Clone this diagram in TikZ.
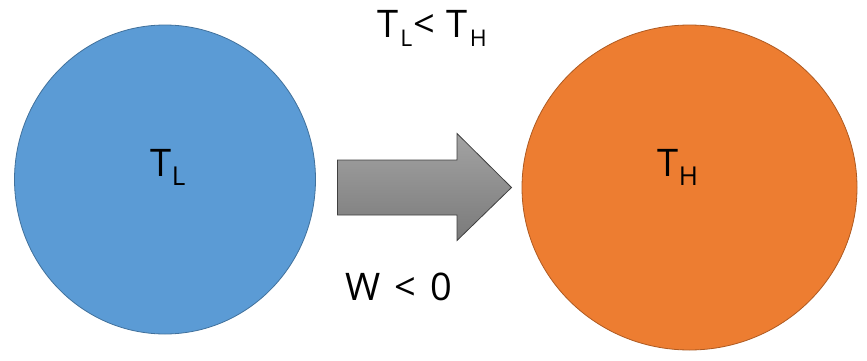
\documentclass[tikz,border=0pt]{standalone}
\usepackage{fontspec}
\setmainfont{Open Sans}
\definecolor{coldfill}{HTML}{5B9BD5}
\definecolor{colddraw}{HTML}{41719C}
\definecolor{hotfill}{HTML}{ED7D31}
\definecolor{hotdraw}{HTML}{AE5A21}
\definecolor{arrtop}{HTML}{A3A3A3}
\definecolor{arrbot}{HTML}{7A7A7A}
\definecolor{arrdraw}{HTML}{404040}
\newcommand{\bigtxt}{\fontsize{38}{38}\selectfont}
\newcommand{\subA}[1]{\raisebox{-9pt}{\fontsize{26}{26}\selectfont #1}}
\newcommand{\subB}[1]{\raisebox{-9pt}{\fontsize{23}{23}\selectfont #1}}
\tikzset{
  label/.style={inner sep=0pt, anchor=base, text=black},
}
\usetikzlibrary{shapes.geometric}
\begin{document}
\begin{tikzpicture}[x=1pt,y=1pt]
\useasboundingbox (0,0) rectangle (867,360);
% bodies
\node[ellipse, draw=colddraw, fill=coldfill, line width=0.8pt, minimum width=301pt, minimum height=309pt, inner sep=0pt] (cold) at (165,180.5) {};
\node[ellipse, draw=hotdraw, fill=hotfill, line width=0.8pt, minimum width=335pt, minimum height=325pt, inner sep=0pt] (hot) at (689.5,172.5) {};
% arrow
\draw[arrdraw, line width=0.8pt, top color=arrtop, bottom color=arrbot]
  (337.5,200) -- (457,200) -- (457,226.5) -- (511.5,172.5) -- (457,119.5) -- (457,145) -- (337.5,145) -- cycle;
% labels
\node[label] (tl) at (168,183.3) {\bigtxt T\subA{L}};
\node[label] (th) at (678,183.3) {\bigtxt T\subA{H}};
\node[label] (cmp) at (432,322.3) {\bigtxt T\hspace{2pt}\subB{L}\hspace{1pt}< \hspace{2pt}T\hspace{2pt}\subB{H}};
\node[label] (work) at (399,60) {\bigtxt W\hspace{4pt} < \hspace{4pt}0};
\end{tikzpicture}
\end{document}
